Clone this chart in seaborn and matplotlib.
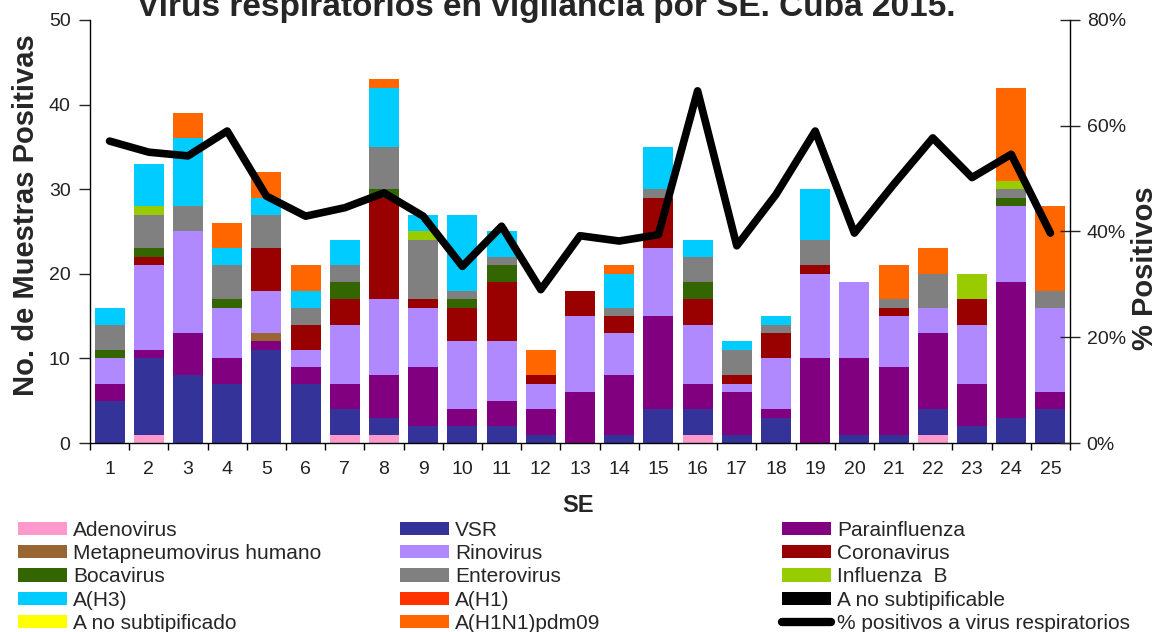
import numpy as np
import matplotlib
matplotlib.use('Agg')
import matplotlib.pyplot as plt
from matplotlib.patches import Patch
from matplotlib.lines import Line2D
from matplotlib.ticker import FuncFormatter
import seaborn as sns

# semanas epidemiologicas
se = [1, 2, 3, 4, 5, 6, 7, 8, 9, 10, 11, 12, 13, 14, 15, 16, 17, 18, 19, 20, 21, 22, 23, 24, 25]

adeno      = [0, 1, 0, 0, 0, 0, 1, 1, 0, 0, 0, 0, 0, 0, 0, 1, 0, 0, 0, 0, 0, 1, 0, 0, 0]
vsr        = [5, 9, 8, 7, 11, 7, 3, 2, 2, 2, 2, 1, 0, 1, 4, 3, 1, 3, 0, 1, 1, 3, 2, 3, 4]
parainf    = [2, 1, 5, 3, 1, 2, 3, 5, 7, 2, 3, 3, 6, 7, 11, 3, 5, 1, 10, 9, 8, 9, 5, 16, 2]
metapneumo = [0, 0, 0, 0, 1, 0, 0, 0, 0, 0, 0, 0, 0, 0, 0, 0, 0, 0, 0, 0, 0, 0, 0, 0, 0]
rinovirus  = [3, 10, 12, 6, 5, 2, 7, 9, 7, 8, 7, 3, 9, 5, 8, 7, 1, 6, 10, 9, 6, 3, 7, 9, 10]
coronav    = [0, 1, 0, 0, 5, 3, 3, 12, 1, 4, 7, 1, 3, 2, 6, 3, 1, 3, 1, 0, 1, 0, 3, 0, 0]
bocavirus  = [1, 1, 0, 1, 0, 0, 2, 1, 0, 1, 2, 0, 0, 0, 0, 2, 0, 0, 0, 0, 0, 0, 0, 1, 0]
enterov    = [3, 4, 3, 4, 4, 2, 2, 5, 7, 1, 1, 0, 0, 1, 1, 3, 3, 1, 3, 0, 1, 4, 0, 1, 2]
flu_b      = [0, 1, 0, 0, 0, 0, 0, 0, 1, 0, 0, 0, 0, 0, 0, 0, 0, 0, 0, 0, 0, 0, 3, 1, 0]
a_h3       = [2, 5, 8, 2, 2, 2, 3, 7, 2, 9, 3, 0, 0, 4, 5, 2, 1, 1, 6, 0, 0, 0, 0, 0, 0]
a_h1       = [0] * 25
a_nosubtip_ble = [0] * 25
a_nosubtip_do  = [0] * 25
a_pdm09    = [0, 0, 3, 3, 3, 3, 0, 1, 0, 0, 0, 3, 0, 1, 0, 0, 0, 0, 0, 0, 4, 3, 0, 11, 10]

pct_pos = [57.1, 55.0, 54.3, 59.0, 46.7, 42.9, 44.5, 47.3, 42.9, 33.4, 41.0, 29.0, 39.2,
           38.2, 39.4, 66.6, 37.3, 47.0, 59.0, 39.7, 48.9, 57.7, 50.2, 54.6, 39.7]

series = [
    ('Adenovirus', adeno, '#FF99CC'),
    ('VSR', vsr, '#333399'),
    ('Parainfluenza', parainf, '#800080'),
    ('Metapneumovirus humano', metapneumo, '#996633'),
    ('Rinovirus', rinovirus, '#B088FF'),
    ('Coronavirus', coronav, '#990000'),
    ('Bocavirus', bocavirus, '#336600'),
    ('Enterovirus', enterov, '#808080'),
    ('Influenza  B', flu_b, '#99CC00'),
    ('A(H3)', a_h3, '#00CCFF'),
    ('A(H1)', a_h1, '#FF3300'),
    ('A no subtipificable', a_nosubtip_ble, '#000000'),
    ('A no subtipificado', a_nosubtip_do, '#FFFF00'),
    ('A(H1N1)pdm09', a_pdm09, '#FF6600'),
]

sns.set_style('white')
plt.rcParams['font.family'] = ['Liberation Sans', 'DejaVu Sans']

fig = plt.figure(figsize=(11.63, 6.32), dpi=100)
ax = fig.add_axes([90/1163, 1-443/632, 980/1163, 423/632])

# stacked bars: draw cumulative totals from top layer downwards
cum = np.cumsum(np.array([s[1] for s in series]), axis=0)
for i in range(len(series)-1, -1, -1):
    sns.barplot(x=se, y=cum[i], color=series[i][2], saturation=1, width=0.77,
                native_scale=True, errorbar=None, ax=ax, linewidth=0)

ax.set_xlim(0.5, 25.5)
ax.set_ylim(0, 50)
ax.set_yticks([0, 10, 20, 30, 40, 50])
ax.set_xticks(se)
ax.set_xticklabels([str(s) for s in se])
ax.set_xticks(np.arange(0.5, 26, 1), minor=True)
ax.tick_params(axis='x', which='major', length=0, pad=13, labelsize=14, labelcolor='#222222')
ax.tick_params(axis='x', which='minor', length=5, width=1, direction='out', color='black', bottom=True)
ax.tick_params(axis='y', length=8, width=1, direction='out', pad=6, labelsize=14,
               labelcolor='#222222', left=True)
ax.set_xlabel('')
ax.set_ylabel('')
for sp in ['top', 'right']:
    ax.spines[sp].set_visible(False)
for sp in ['left', 'bottom']:
    ax.spines[sp].set_color('black')
    ax.spines[sp].set_linewidth(1)

ax2 = ax.twinx()
sns.lineplot(x=se, y=pct_pos, color='black', linewidth=5.5, ax=ax2)
ax2.set_ylim(0, 80)
ax2.set_yticks([0, 20, 40, 60, 80])
ax2.yaxis.set_major_formatter(FuncFormatter(lambda v, p: f'{v:.0f}%'))
ax2.tick_params(axis='y', length=14, width=1, direction='inout', pad=5, labelsize=14,
                labelcolor='#222222', right=True)
ax2.set_ylabel('')
for sp in ['top', 'left', 'bottom']:
    ax2.spines[sp].set_visible(False)
ax2.spines['right'].set_color('black')
ax2.spines['right'].set_linewidth(1)

fig.text(546/1163, 1-16/632, 'Virus respiratorios en vigilancia por SE. Cuba 2015.',
         ha='center', va='baseline', fontsize=24, fontweight='bold')
fig.text(26/1163, 1-215/632, 'No. de Muestras Positivas', rotation=90, ha='center',
         va='center', fontsize=21, fontweight='bold')
fig.text(1145/1163, 1-268/632, '% Positivos', rotation=90, ha='center', va='center',
         fontsize=21, fontweight='bold')
fig.text(578/1163, 1-505/632, 'SE', ha='center', va='center', fontsize=17, fontweight='bold')

# legend in three columns, row-wise order like the original
handles = [Patch(facecolor=c, edgecolor='none', label=n) for n, _, c in series]
handles.append(Line2D([0], [0], color='black', lw=6, solid_capstyle='round',
                      label='% positivos a virus respiratorios'))
col_x = [18, 400, 782]
for j in range(3):
    fig.legend(handles=handles[j::3], loc='upper left',
               bbox_to_anchor=(col_x[j]/1163, 1-521/632), frameon=False,
               fontsize=15, handlelength=2.35, handleheight=0.6, handletextpad=0.28,
               labelspacing=0.2, borderpad=0, borderaxespad=0)

fig.savefig('out.png', dpi=100)
